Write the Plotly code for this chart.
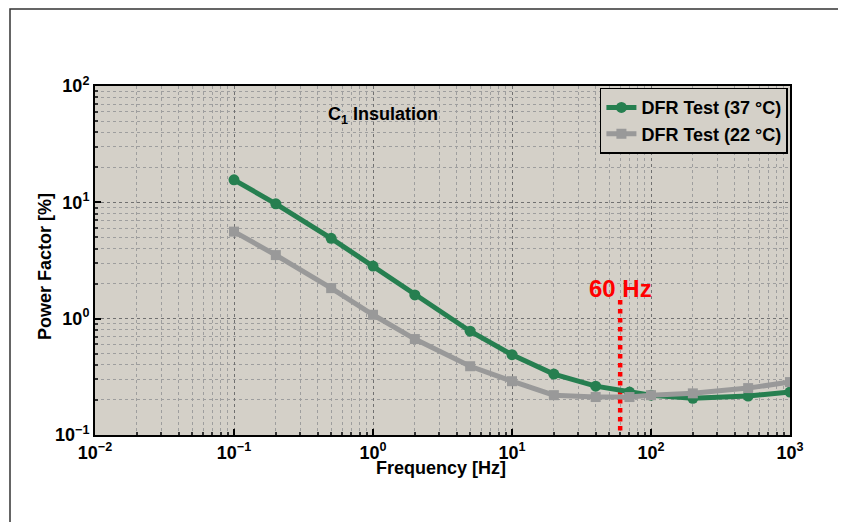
import math
import plotly.graph_objects as go

freq_37 = [0.1, 0.2, 0.5, 1, 2, 5, 10, 20, 40, 70, 100, 200, 500, 1000]
pf_37 = [15.6, 9.7, 4.9, 2.83, 1.6, 0.78, 0.49, 0.334, 0.263, 0.234, 0.22, 0.207, 0.216, 0.234]
freq_22 = [0.1, 0.2, 0.5, 1, 2, 5, 10, 20, 40, 70, 100, 200, 500, 1000]
pf_22 = [5.6, 3.52, 1.83, 1.08, 0.668, 0.39, 0.29, 0.22, 0.212, 0.212, 0.22, 0.228, 0.253, 0.285]
line_freq = [60, 60]
line_pf = [1.45, 0.1]
x_tickvals = [0.01, 0.1, 1, 10, 100, 1000]
x_ticktext = ["<b>10<sup>−2</sup></b>", "<b>10<sup>−1</sup></b>", "<b>10<sup>0</sup></b>",
              "<b>10<sup>1</sup></b>", "<b>10<sup>2</sup></b>", "<b>10<sup>3</sup></b>"]
y_tickvals = [0.1, 1, 10, 100]
y_ticktext = ["<b>10<sup>−1</sup></b>", "<b>10<sup>0</sup></b>", "<b>10<sup>1</sup></b>", "<b>10<sup>2</sup></b>"]

FONT = "Liberation Sans"
BG = "#d4d0c8"


def minor_vals(lo, hi):
    vals = []
    for e in range(lo, hi):
        for m in range(2, 10):
            vals.append(m * 10 ** e)
    return vals


fig = go.Figure()
fig.add_trace(go.Scatter(x=line_freq, y=line_pf, mode="lines", showlegend=False,
                         line=dict(color="#ff0000", width=4.5, dash="dot"), hoverinfo="skip"))
fig.add_trace(go.Scatter(x=freq_37, y=pf_37, mode="lines+markers", name="<b>DFR Test (37 °C)</b>",
                         line=dict(color="#267f50", width=5),
                         marker=dict(symbol="circle", size=11, color="#267f50")))
fig.add_trace(go.Scatter(x=freq_22, y=pf_22, mode="lines+markers", name="<b>DFR Test (22 °C)</b>",
                         line=dict(color="#999999", width=5),
                         marker=dict(symbol="square", size=10, color="#999999")))


def axis_common(minor_list):
    return dict(
        showline=True, linecolor="black", linewidth=2, mirror=True,
        ticks="inside", ticklen=6, tickcolor="black", tickwidth=1.5,
        showgrid=True, gridcolor="#707070", gridwidth=1, griddash="dot",
        minor=dict(tickmode="array", tickvals=minor_list, ticks="inside", ticklen=3,
                   tickcolor="#333333", showgrid=True,
                   gridcolor="#9e9e9e", gridwidth=1, griddash="dot"),
        tickfont=dict(family=FONT, size=18, color="black"),
        zeroline=False, automargin=False,
    )


fig.update_xaxes(type="log", range=[-2, 3], tickmode="array", tickvals=x_tickvals, ticktext=x_ticktext,
                 **axis_common(minor_vals(-2, 3)))
fig.update_yaxes(type="log", range=[-1, 2], tickmode="array", tickvals=y_tickvals, ticktext=y_ticktext,
                 **axis_common(minor_vals(-1, 2)))

# axis titles
fig.add_annotation(xref="paper", yref="paper", x=0.498, y=-0.094, xanchor="center", yanchor="middle",
                   text="<b>Frequency [Hz]</b>", showarrow=False,
                   font=dict(family=FONT, size=18, color="black"))
fig.add_annotation(xref="paper", yref="paper", x=-0.072, y=0.484, xanchor="center", yanchor="middle",
                   text="<b>Power Factor [%]</b>", textangle=-90, showarrow=False,
                   font=dict(family=FONT, size=18, color="black"))

fig.add_annotation(x=math.log10(60), y=0.263, xref="x", yref="y", text="<b>60 Hz</b>", showarrow=False,
                   font=dict(family=FONT, size=24, color="#ff0000"))
fig.add_annotation(x=0.072, y=1.75, xref="x", yref="y", text="<b>C<sub>1</sub> Insulation</b>", showarrow=False,
                   font=dict(family=FONT, size=18, color="black"))

fig.add_shape(type="rect", xref="paper", yref="paper", x0=-0.1223, x1=1.0734, y0=-0.3, y1=1.2206,
              line=dict(color="#333333", width=1.5), layer="below")

fig.update_layout(
    width=846, height=522,
    margin=dict(l=87, r=64, t=78, b=95),
    paper_bgcolor="white", plot_bgcolor=BG,
    font=dict(family=FONT, color="black"),
    legend=dict(x=0.997, y=0.995, xanchor="right", yanchor="top",
                bgcolor=BG, bordercolor="black", borderwidth=1.5,
                font=dict(family=FONT, size=18, color="black"),
                tracegroupgap=0, itemwidth=30),
    showlegend=True,
)

fig.write_html("out.html")
